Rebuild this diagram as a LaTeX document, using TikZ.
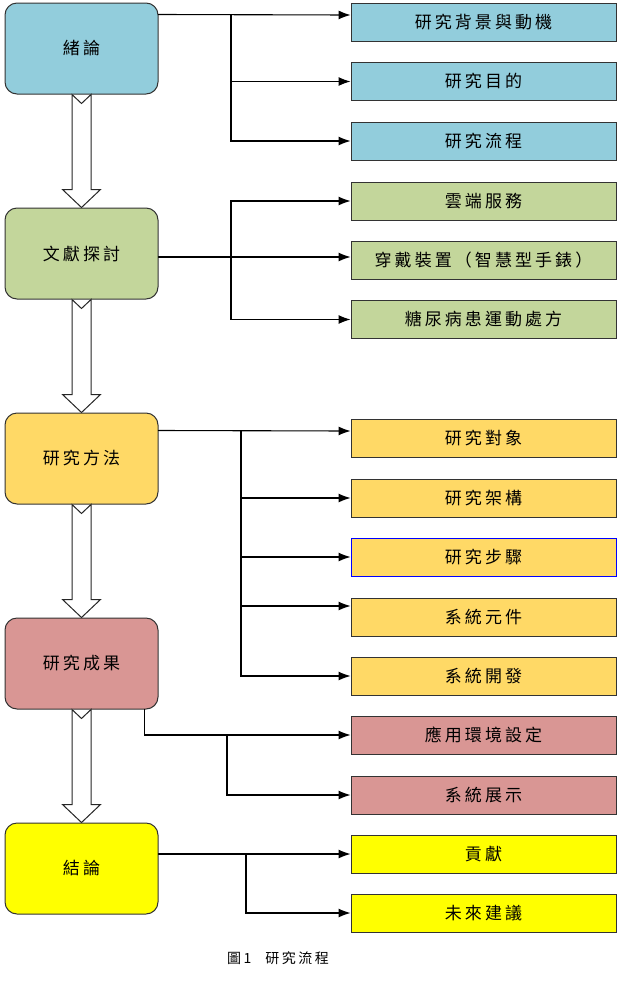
\documentclass[tikz,border=0pt]{standalone}
\usepackage{fontspec}
\newfontfamily\cjk[LetterSpace=18]{Noto Sans CJK TC}
\usepackage{tikz}
\usetikzlibrary{arrows.meta, calc}
\definecolor{introBlue}{RGB}{146,205,220}
\definecolor{litGreen}{RGB}{195,214,155}
\definecolor{methOrange}{RGB}{255,217,102}
\definecolor{resRose}{RGB}{217,150,148}
\definecolor{conclYellow}{RGB}{255,255,0}

\begin{document}
\begin{tikzpicture}[x=1pt, y=-1pt, style={line cap = round},
	mainbox/.style={draw=black!80, line width=1pt, rounded corners=12pt, minimum width=153pt, minimum height=91pt, font={\cjk\fontsize{17}{19}\selectfont}},
	subbox/.style={draw=black!80, line width=0.9pt, minimum width=265pt, minimum height=38pt, font={\cjk\fontsize{17}{19}\selectfont}},
	link/.style={line width=1.1pt, -{Latex[length=12pt, width=9pt]}},
	hollow/.style={draw=black!85, fill=white, line width=1pt, line cap=butt, line join=miter}]
	\useasboundingbox (0,0) rectangle (621,1002);
	\node[mainbox, fill=introBlue] (intro) at (81.5,48.5) {緒論};
	\node[mainbox, fill=litGreen] (lit) at (81.5,253.5) {文獻探討};
	\node[mainbox, fill=methOrange] (meth) at (81.5,458.5) {研究方法};
	\node[mainbox, fill=resRose] (res) at (81.5,663.5) {研究成果};
	\node[mainbox, fill=conclYellow] (concl) at (81.5,868.5) {結論};

	\node[subbox, fill=introBlue] (bg) at (483.5,22.5) {研究背景與動機};
	\node[subbox, fill=introBlue] (aim) at (483.5,81.5) {研究目的};
	\node[subbox, fill=introBlue] (flow) at (483.5,141) {研究流程};
	\node[subbox, fill=litGreen] (cloud) at (483.5,201) {雲端服務};
	\node[subbox, fill=litGreen] (wear) at (483.5,260) {穿戴裝置（智慧型手錶）};
	\node[subbox, fill=litGreen] (diab) at (483.5,319.5) {糖尿病患運動處方};
	\node[subbox, fill=methOrange] (subj) at (483.5,438) {研究對象};
	\node[subbox, fill=methOrange] (arch) at (483.5,498) {研究架構};
	\node[subbox, fill=methOrange, draw=blue] (step) at (483.5,557) {研究步驟};
	\node[subbox, fill=methOrange] (comp) at (483.5,617) {系統元件};
	\node[subbox, fill=methOrange] (dev) at (483.5,676) {系統開發};
	\node[subbox, fill=resRose] (env) at (483.5,735) {應用環境設定};
	\node[subbox, fill=resRose] (demo) at (483.5,795) {系統展示};
	\node[subbox, fill=conclYellow] (contrib) at (483.5,854) {貢獻};
	\node[subbox, fill=conclYellow] (future) at (483.5,913) {未來建議};

	% branches
	\coordinate (j1) at (231,15);
	\draw[link] ([yshift=-12pt]intro.north east) -- ([yshift=7.5pt]bg.west);
	\draw[link] (j1) |- (aim.west);
	\draw[link] (j1) |- (flow.west);

	\coordinate (j2) at (231,257);
	\draw[link] (lit.east |- j2) -- ([yshift=3pt]wear.west);
	\draw[link] (j2) |- (cloud.west);
	\draw[link] (j2) |- (diab.west);

	\coordinate (j3) at (241,431);
	\draw[link] ([yshift=-18pt]meth.north east) -- ([yshift=7pt]subj.west);
	\draw[link] (j3) |- (arch.west);
	\draw[link] (j3) |- (step.west);
	\draw[link] (j3) |- ([yshift=11pt]comp.west);
	\draw[link] (j3) |- (dev.west);

	\coordinate (j4) at (227,735);
	\draw[link] ([xshift=-14pt]res.south east) |- (env.west);
	\draw[link] (j4) |- (demo.west);

	\coordinate (j5) at (246,854);
	\draw[link] (concl.east |- contrib.west) -- (contrib.west);
	\draw[link] (j5) |- (future.west);

	% hollow arrows between the stages
	\foreach \a/\b in {intro/lit, lit/meth, meth/res, res/concl}
		\draw[hollow] ([xshift=-9.5pt]\a.south) -- ++(9.5,9) -- ++(9.5,-9) -- ([xshift=9.5pt, yshift=18pt]\b.north) -- ++(9.5,0) -- (\b.north) -- ++(-19,-18) -- ++(9.5,0) -- cycle;

	\node[font={\cjk\fontsize{14}{16}\selectfont}] (cap) at (278,958) {圖1\quad 研究流程};
\end{tikzpicture}
\end{document}
